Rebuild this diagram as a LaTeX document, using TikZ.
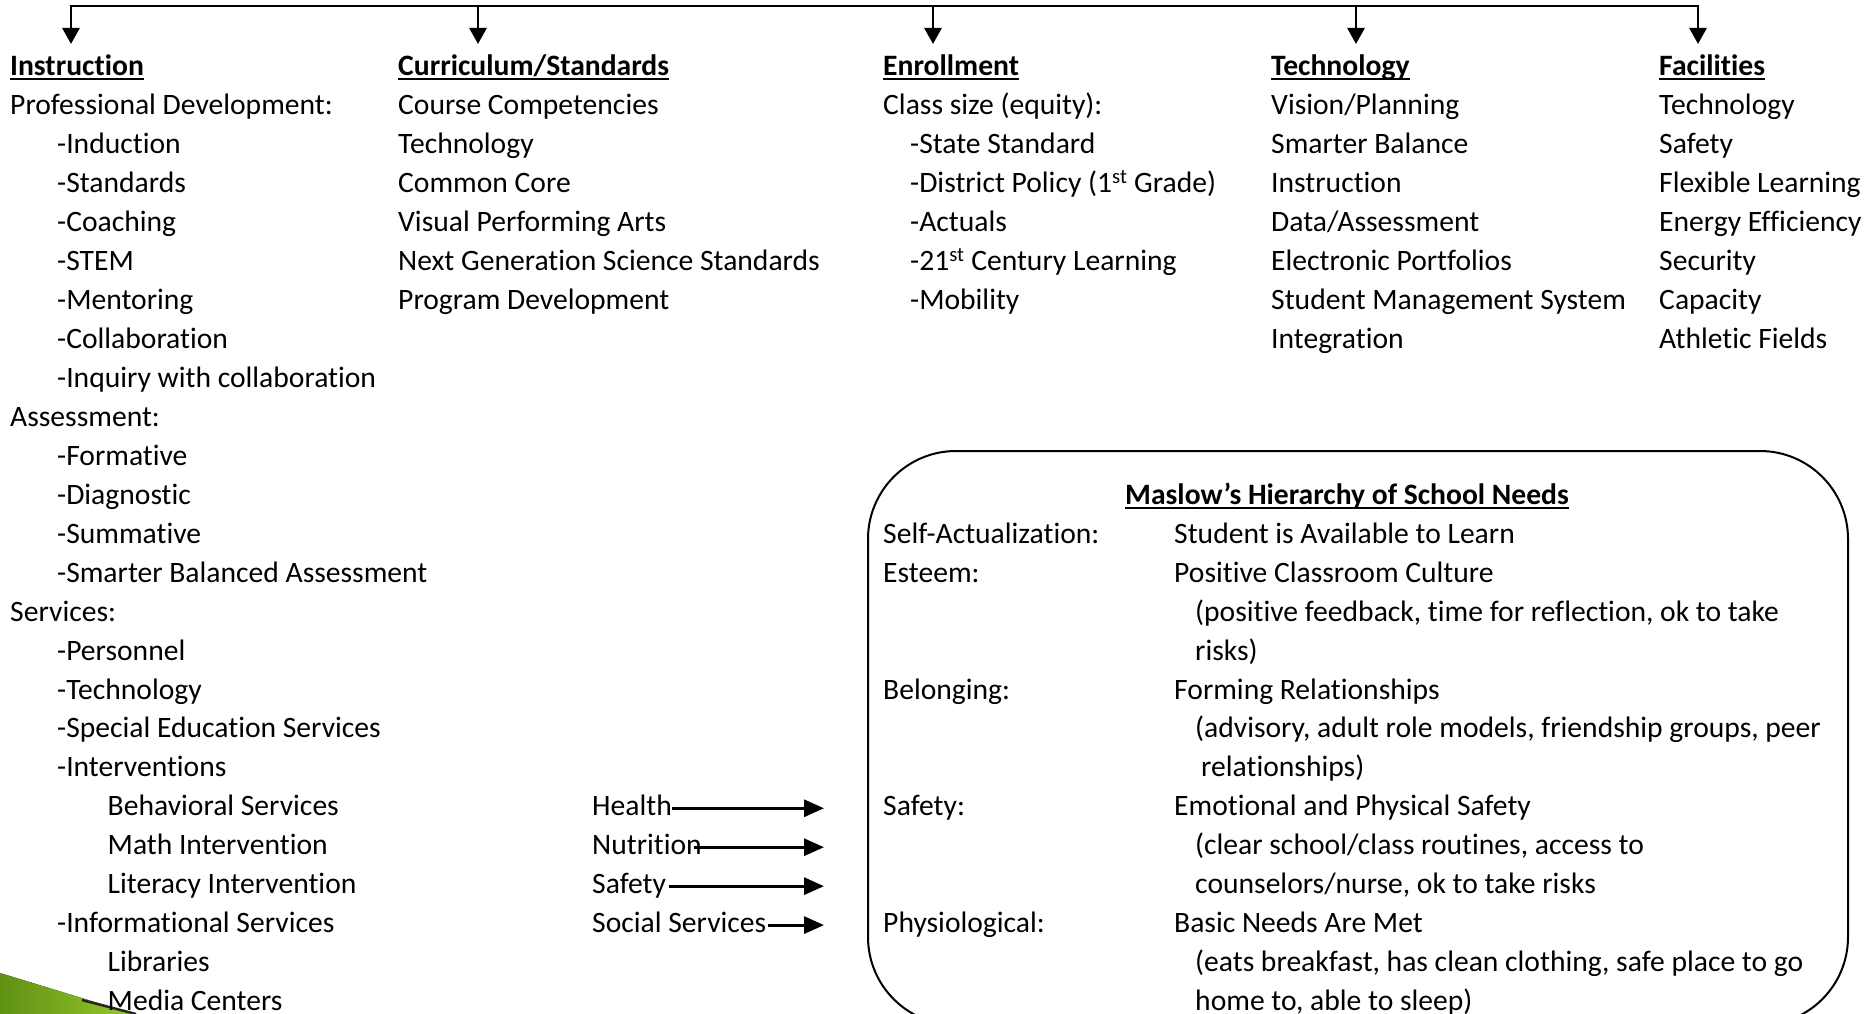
\documentclass[tikz,border=0pt]{standalone}
\usepackage{fontspec}
\setmainfont{Carlito}[RawFeature={-liga;-clig;-dlig}]
\usetikzlibrary{arrows.meta}
\definecolor{lgreen}{RGB}{150,200,40}
\definecolor{dgreen}{RGB}{95,145,20}
\newcommand\hdr[1]{\setbox0\hbox{\bfseries #1}\rlap{\rule[-4.5pt]{\wd0}{2pt}}\box0}
\newcommand\tline[4]{\node[txt] (#1) at (#2,{76+38.94*#3}) {#4};}
\begin{document}
\begin{tikzpicture}[x=1pt,y=-1pt,
  txt/.style={anchor=base west,inner sep=0pt,font=\fontsize{29.6}{36}\selectfont},
  bar/.style={line width=2.6pt},
  toparrow/.style={line width=2.8pt,-{Triangle[length=16pt,width=17pt]}},
  conn/.style={line width=3pt,-{Triangle[length=20pt,width=17pt]}},
  mbox/.style={draw,line width=2pt,rounded corners=88pt}]
\useasboundingbox (0,0) rectangle (1873,1014);
\fill[white] (0,0) rectangle (1873,1014);

% green swoosh
\fill[left color=dgreen,right color=lgreen] (0,973) -- (134,1014) -- (0,1014) -- cycle;
\draw[line width=2.5pt,black!85] (82,1000) -- (136,1014);

% top bar and arrows
\coordinate (ba) at (71,6);
\coordinate (bb) at (478,6);
\coordinate (bc) at (933,6);
\coordinate (bd) at (1356,6);
\coordinate (be) at (1698,6);
\draw[bar] ([xshift=-1.3pt]ba) -- ([xshift=1.3pt]be);
\foreach \p in {ba,bb,bc,bd,be}{
  \draw[toparrow] (\p) -- ([yshift=-38pt]\p);
}

% Instruction column
\tline{i0}{10}{0}{\hdr{Instruction}}
\tline{i1}{10}{1}{Professional Development:}
\tline{i2}{57}{2}{-Induction}
\tline{i3}{57}{3}{-Standards}
\tline{i4}{57}{4}{-Coaching}
\tline{i5}{57}{5}{-STEM}
\tline{i6}{57}{6}{-Mentoring}
\tline{i7}{57}{7}{-Collaboration}
\tline{i8}{57}{8}{-Inquiry with collaboration}
\tline{i9}{10}{9}{Assessment:}
\tline{i10}{57}{10}{-Formative}
\tline{i11}{57}{11}{-Diagnostic}
\tline{i12}{57}{12}{-Summative}
\tline{i13}{57}{13}{-Smarter Balanced Assessment}
\tline{i14}{10}{14}{Services:}
\tline{i15}{57}{15}{-Personnel}
\tline{i16}{57}{16}{-Technology}
\tline{i17}{57}{17}{-Special Education Services}
\tline{i18}{57}{18}{-Interventions}
\tline{i19}{107.5}{19}{Behavioral Services}
\tline{i20}{107.5}{20}{Math Intervention}
\tline{i21}{107.5}{21}{Literacy Intervention}
\tline{i22}{57}{22}{-Informational Services}
\tline{i23}{107.5}{23}{Libraries}
\tline{i24}{107.5}{24}{Media Centers}

% Curriculum column
\tline{c0}{398}{0}{\hdr{Curriculum/Standards}}
\tline{c1}{398}{1}{Course Competencies}
\tline{c2}{398}{2}{Technology}
\tline{c3}{398}{3}{Common Core}
\tline{c4}{398}{4}{Visual Performing Arts}
\tline{c5}{398}{5}{Next Generation Science Standards}
\tline{c6}{398}{6}{Program Development}

% Enrollment column
\tline{e0}{883}{0}{\hdr{Enrollment}}
\tline{e1}{883}{1}{Class size (equity):}
\tline{e2}{910}{2}{-State Standard}
\tline{e3}{910}{3}{-District Policy (1\textsuperscript{st} Grade)}
\tline{e4}{910}{4}{-Actuals}
\tline{e5}{910}{5}{-21\textsuperscript{st} Century Learning}
\tline{e6}{910}{6}{-Mobility}

% Technology column
\tline{t0}{1271}{0}{\hdr{Technology}}
\tline{t1}{1271}{1}{Vision/Planning}
\tline{t2}{1271}{2}{Smarter Balance}
\tline{t3}{1271}{3}{Instruction}
\tline{t4}{1271}{4}{Data/Assessment}
\tline{t5}{1271}{5}{Electronic Portfolios}
\tline{t6}{1271}{6}{Student Management System}
\tline{t7}{1271}{7}{Integration}

% Facilities column
\tline{f0}{1659}{0}{\hdr{Facilities}}
\tline{f1}{1659}{1}{Technology}
\tline{f2}{1659}{2}{Safety}
\tline{f3}{1659}{3}{Flexible Learning}
\tline{f4}{1659}{4}{Energy Efficiency}
\tline{f5}{1659}{5}{Security}
\tline{f6}{1659}{6}{Capacity}
\tline{f7}{1659}{7}{Athletic Fields}

% Maslow box
\node[mbox,minimum width=980pt,minimum height=574pt,inner sep=0pt] (box) at (1358,738) {};
\node[txt,anchor=base] (mtitle) at (1347,{76+38.94*11}) {\hdr{Maslow’s Hierarchy of School Needs}};
\tline{ml1}{883}{12}{Self-Actualization:}
\tline{mv1}{1174}{12}{Student is Available to Learn}
\tline{ml2}{883}{13}{Esteem:}
\tline{mv2}{1174}{13}{Positive Classroom Culture}
\tline{md2a}{1195}{14}{(positive feedback, time for reflection, ok to take}
\tline{md2b}{1195}{15}{risks)}
\tline{ml3}{883}{16}{Belonging:}
\tline{mv3}{1174}{16}{Forming Relationships}
\tline{md3a}{1195}{17}{(advisory, adult role models, friendship groups, peer}
\tline{md3b}{1201}{18}{relationships)}
\tline{ml4}{883}{19}{Safety:}
\tline{mv4}{1174}{19}{Emotional and Physical Safety}
\tline{md4a}{1195}{20}{(clear school/class routines, access to}
\tline{md4b}{1195}{21}{counselors/nurse, ok to take risks}
\tline{ml5}{883}{22}{Physiological:}
\tline{mv5}{1174}{22}{Basic Needs Are Met}
\tline{md5a}{1195}{23}{(eats breakfast, has clean clothing, safe place to go}
\tline{md5b}{1195}{24}{home to, able to sleep)}

% supports with arrows
\tline{health}{592}{19}{Health}
\tline{nutr}{592}{20}{Nutrition}
\tline{safe}{592}{21}{Safety}
\tline{social}{592}{22}{Social Services}
\coordinate (ah) at (824,{76+38.94*19-7.6});
\coordinate (an) at (824,{76+38.94*20-7.6});
\coordinate (as) at (824,{76+38.94*21-7.6});
\coordinate (ao) at (824,{76+38.94*22-7.6});
\draw[conn] (health.base east |- ah) -- (ah);
\draw[conn] ([xshift=-8pt]nutr.base east |- an) -- (an);
\draw[conn] ([xshift=3pt]safe.base east |- as) -- (as);
\draw[conn] ([xshift=2pt]social.base east |- ao) -- (ao);
\end{tikzpicture}
\end{document}
